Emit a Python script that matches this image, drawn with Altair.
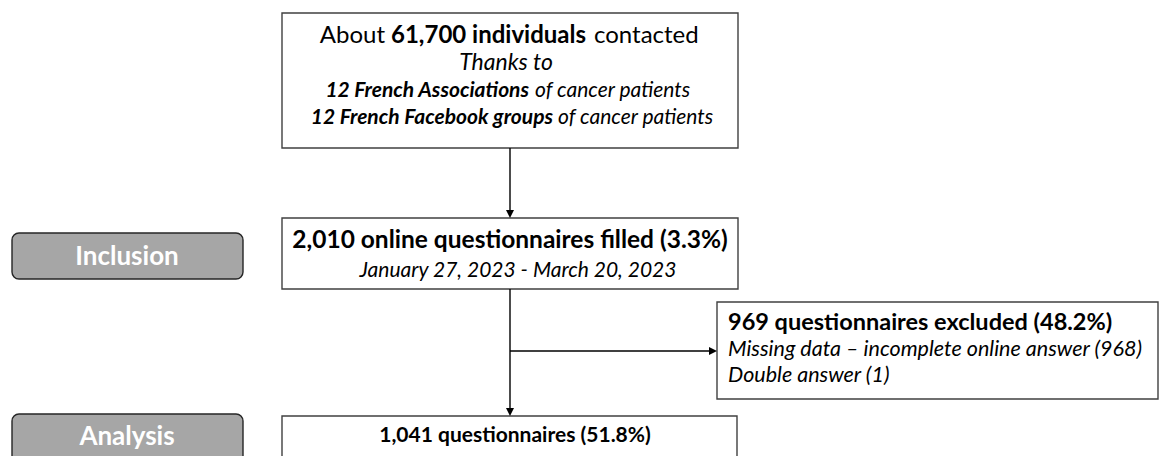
import altair as alt
import pandas as pd

# ---------------- text content ----------------
top_line1 = ["About", "61,700 individuals", "contacted"]
top_line2 = "Thanks to"
top_line3 = ["12 French Associations", "of cancer patients"]
top_line4 = ["12 French Facebook groups", "of cancer patients"]
incl_title = "2,010 online questionnaires filled (3.3%)"
incl_dates = "January 27, 2023 - March 20, 2023"
excl_title = "969 questionnaires excluded (48.2%)"
excl_reasons = ["Missing data \u2013 incomplete online answer (968)", "Double answer (1)"]
final_title = "1,041 questionnaires (51.8%)"
stage_labels = ["Inclusion", "Analysis"]

FONT = "Lato"

# ---------------- layout (page pixel coordinates) ----------------
boxes = pd.DataFrame([
    dict(x=282, x2=738, y=13, y2=148),
    dict(x=282, x2=738, y=218, y2=289),
    dict(x=717, x2=1158, y=302, y2=399),
    dict(x=282, x2=737, y=416, y2=480),
])
stage_boxes = pd.DataFrame([
    dict(x=12, x2=243, y=233, y2=279),
    dict(x=12, x2=243, y=414, y2=480),
])
lines = pd.DataFrame([
    dict(x=510, x2=510, y=148, y2=214),
    dict(x=510, x2=510, y=289, y2=412),
    dict(x=510, x2=713, y=351, y2=351),
])
heads_down = pd.DataFrame([dict(x=510, y=218), dict(x=510, y=416)])
heads_right = pd.DataFrame([dict(x=717, y=351)])

segs = []
def seg(text, x, y, align, weight="normal", style="normal", size=21, color="#000000"):
    segs.append(dict(text=text, x=x, y=y, align=align, weight=weight,
                     style=style, size=size, color=color))

seg(top_line1[0], 385, 43, "right", size=24)
seg(top_line1[1], 391, 43, "left", weight="bold", size=24)
seg(top_line1[2], 594, 43, "left", size=24)
seg(top_line2, 506, 70, "center", style="italic", size=23)
seg(top_line3[0], 529, 97, "right", weight="bold", style="italic", size=21)
seg(top_line3[1], 535, 97, "left", style="italic", size=21)
seg(top_line4[0], 553, 124, "right", weight="bold", style="italic", size=21)
seg(top_line4[1], 558, 124, "left", style="italic", size=21)
seg(incl_title, 510, 248, "center", weight="bold", size=24.5)
seg(incl_dates, 518, 277, "center", style="italic", size=21)
seg(excl_title, 728, 330, "left", weight="bold", size=23.5)
seg(excl_reasons[0], 728, 356, "left", style="italic", size=21.5)
seg(excl_reasons[1], 728, 382, "left", style="italic", size=21.5)
seg(final_title, 515, 442, "center", weight="bold", size=21)
seg(stage_labels[0], 127, 265, "center", weight="bold", size=26, color="#ffffff")
seg(stage_labels[1], 127, 445, "center", weight="bold", size=26, color="#ffffff")
seg_df = pd.DataFrame(segs)

xs = alt.Scale(domain=[8, 1160], nice=False, zero=False)
ys = alt.Scale(domain=[8, 456], nice=False, zero=False, reverse=True)

def X(f="x"):
    return alt.X(f + ":Q", scale=xs, axis=None)
def Y(f="y"):
    return alt.Y(f + ":Q", scale=ys, axis=None)

layers = []
layers.append(alt.Chart(boxes).mark_rect(fill="white", stroke="#404040", strokeWidth=1.4)
              .encode(x=X(), x2="x2:Q", y=Y(), y2="y2:Q"))
layers.append(alt.Chart(stage_boxes).mark_rect(fill="#a6a6a6", stroke="#262626", strokeWidth=1.4,
                                               cornerRadius=7)
              .encode(x=X(), x2="x2:Q", y=Y(), y2="y2:Q"))
layers.append(alt.Chart(lines).mark_rule(color="#000000", strokeWidth=1.4)
              .encode(x=X(), x2="x2:Q", y=Y(), y2="y2:Q"))
layers.append(alt.Chart(heads_down).mark_point(shape="M-0.5,-1L0.5,-1L0,0Z", filled=True,
                                               size=256, color="#000000", opacity=1, strokeWidth=0)
              .encode(x=X(), y=Y()))
layers.append(alt.Chart(heads_right).mark_point(shape="M-1,-0.5L-1,0.5L0,0Z", filled=True,
                                                size=256, color="#000000", opacity=1, strokeWidth=0)
              .encode(x=X(), y=Y()))

for (align, weight, style, size, color), g in seg_df.groupby(["align", "weight", "style", "size", "color"]):
    layers.append(alt.Chart(g.reset_index(drop=True)).mark_text(
        align=align, baseline="alphabetic", font=FONT, fontSize=float(size),
        fontWeight=weight, fontStyle=style, color=color)
        .encode(x=X(), y=Y(), text="text:N"))

chart = alt.layer(*layers).properties(
    width=1152, height=448,
    autosize=alt.AutoSizeParams(type="none"), padding=0
).configure_view(stroke=None)

chart.save("out.html", embed_options={"renderer": "svg", "actions": False})
